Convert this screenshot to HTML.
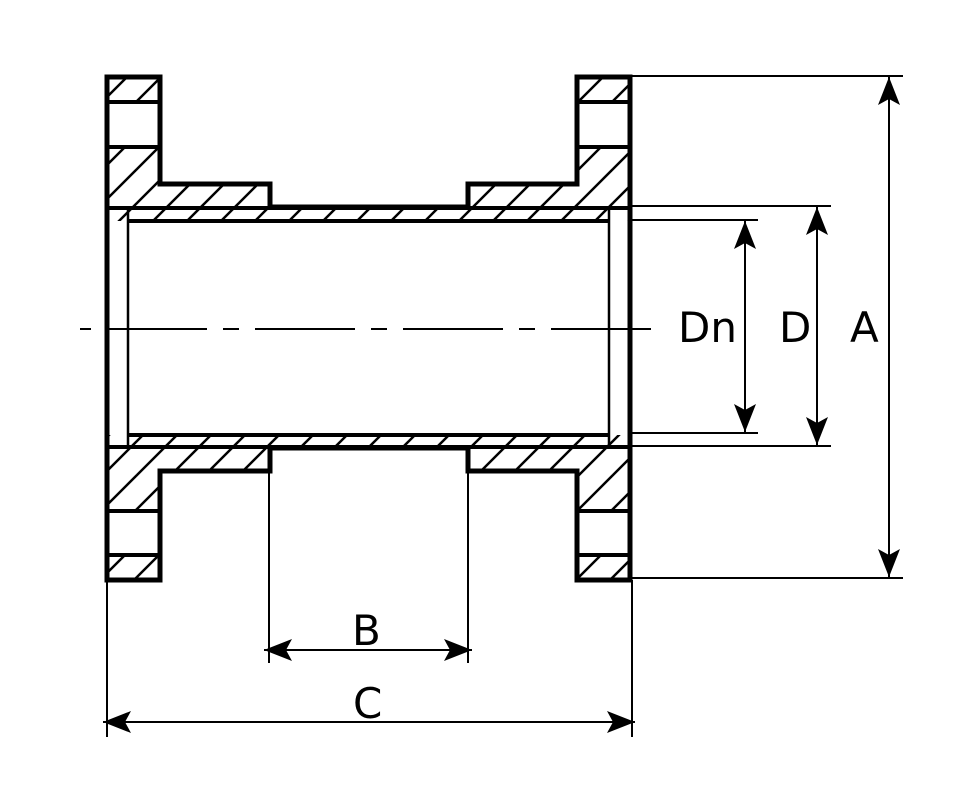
<!DOCTYPE html>
<html><head><style>html,body{margin:0;padding:0;background:#fff}svg{display:block}</style></head>
<body>
<svg width="966" height="799" viewBox="0 0 966 799" xmlns="http://www.w3.org/2000/svg">
<defs>
<pattern id="h" patternUnits="userSpaceOnUse" width="34" height="34">
<line x1="-2" y1="36" x2="36" y2="-2" stroke="#000" stroke-width="2.5"/>
<line x1="-36" y1="36" x2="2" y2="-2" stroke="#000" stroke-width="2.5"/>
<line x1="32" y1="36" x2="70" y2="-2" stroke="#000" stroke-width="2.5"/>
</pattern>
<marker id="ar" markerWidth="30" markerHeight="24" refX="28" refY="12" orient="auto-start-reverse" markerUnits="userSpaceOnUse">
<path d="M28,12 L0,1 L6,12 L0,23 Z" fill="#000"/>
</marker>
</defs>
<path d="M107,77 H160 V184 H270 V207 H468 V184 H577 V77 H630 V221 H107 Z" fill="url(#h)"/>
<path d="M107,580 H160 V471 H270 V448 H468 V471 H577 V580 H630 V435 H107 Z" fill="url(#h)"/>
<rect x="109" y="102" width="49" height="45" fill="#fff"/>
<rect x="579" y="102" width="49" height="45" fill="#fff"/>
<rect x="109" y="511" width="49" height="44" fill="#fff"/>
<rect x="579" y="511" width="49" height="44" fill="#fff"/>
<rect x="109" y="221" width="19" height="214" fill="#fff"/>
<rect x="609" y="221" width="19" height="214" fill="#fff"/>
<g stroke="#000" fill="none">
<path d="M107,77 H160 V184 H270 V207 H468 V184 H577 V77 H630 V580 H577 V471 H468 V448 H270 V471 H160 V580 H107 Z" stroke-width="5"/>
<g stroke-width="4">
<line x1="107" y1="102" x2="160" y2="102"/><line x1="107" y1="147" x2="160" y2="147"/>
<line x1="577" y1="102" x2="630" y2="102"/><line x1="577" y1="147" x2="630" y2="147"/>
<line x1="107" y1="511" x2="160" y2="511"/><line x1="107" y1="555" x2="160" y2="555"/>
<line x1="577" y1="511" x2="630" y2="511"/><line x1="577" y1="555" x2="630" y2="555"/>
</g>
<line x1="107" y1="208" x2="630" y2="208" stroke-width="4"/>
<line x1="107" y1="447" x2="630" y2="447" stroke-width="4"/>
<line x1="128" y1="221" x2="609" y2="221" stroke-width="4"/>
<line x1="128" y1="435" x2="609" y2="435" stroke-width="4"/>
<line x1="128" y1="208" x2="128" y2="447" stroke-width="2.5"/>
<line x1="609" y1="208" x2="609" y2="447" stroke-width="2.5"/>
<line x1="80" y1="329" x2="660" y2="329" stroke-width="2" stroke-dasharray="100 16 16 16" stroke-dashoffset="121"/>
<g stroke-width="2">
<line x1="630" y1="76" x2="903" y2="76"/>
<line x1="630" y1="578" x2="903" y2="578"/>
<line x1="630" y1="206" x2="831" y2="206"/>
<line x1="630" y1="446" x2="831" y2="446"/>
<line x1="630" y1="220" x2="758" y2="220"/>
<line x1="630" y1="433" x2="758" y2="433"/>
<line x1="107" y1="580" x2="107" y2="737"/>
<line x1="632" y1="580" x2="632" y2="737"/>
<line x1="269" y1="471" x2="269" y2="663"/>
<line x1="468" y1="471" x2="468" y2="663"/>
<line x1="889" y1="77" x2="889" y2="577" marker-start="url(#ar)" marker-end="url(#ar)"/>
<line x1="817" y1="207" x2="817" y2="445" marker-start="url(#ar)" marker-end="url(#ar)"/>
<line x1="745" y1="221" x2="745" y2="432" marker-start="url(#ar)" marker-end="url(#ar)"/>
<line x1="264" y1="650" x2="472" y2="650" marker-start="url(#ar)" marker-end="url(#ar)"/>
<line x1="103" y1="722" x2="635" y2="722" marker-start="url(#ar)" marker-end="url(#ar)"/>
</g>
</g>
<g font-family="'DejaVu Sans','Liberation Sans',sans-serif" font-size="42" fill="#000">
<text x="678" y="342">Dn</text>
<text x="779" y="342">D</text>
<text x="850" y="342">A</text>
<text x="352" y="645">B</text>
<text x="353" y="718">C</text>
</g>
</svg>
</body></html>
